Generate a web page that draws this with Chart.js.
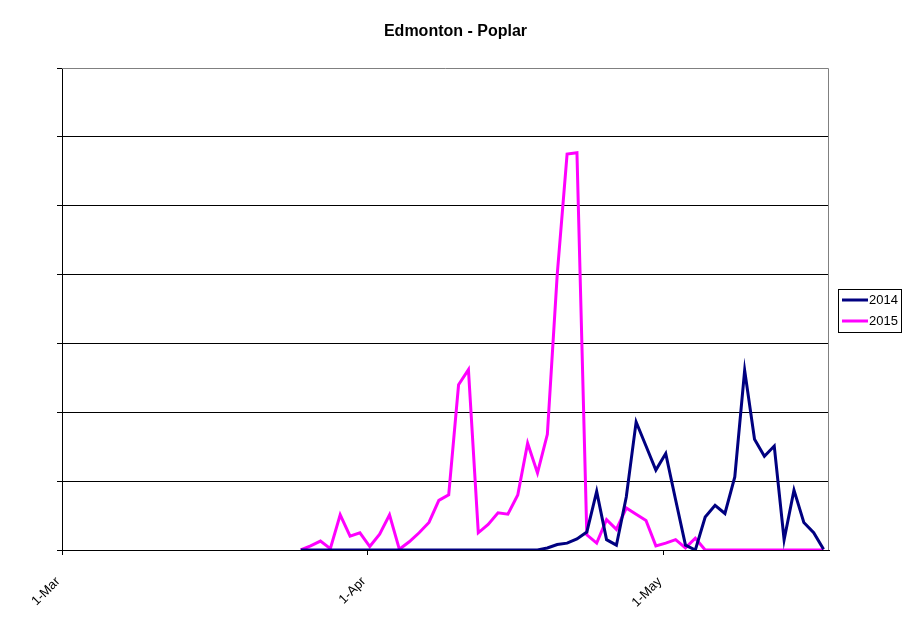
<!DOCTYPE html>
<html lang="en">
<head>
    <meta charset="UTF-8">
    <title>Edmonton - Poplar</title>
    <style>
        body {
            margin: 0;
            padding: 0;
            background: #fff;
            font-family: 'Liberation Sans', Arial, sans-serif;
        }
        #chart {
            width: 911px;
            height: 623px;
            position: relative;
        }
    </style>
</head>
<body>
    <div id="chart">
        <canvas id="myChart" width="911" height="623"></canvas>
    </div>

    <script src="https://cdn.jsdelivr.net/npm/chart.js"></script>
    <script>
// day index 0 = 1-Mar, last day = 17-May (index 77)
const axisMax = 77.75;
const tickDays = [0, 31, 61];
const tickLabels = ['1-Mar', '1-Apr', '1-May'];
const titleText = 'Edmonton - Poplar';

// both series start at day 24 (25-Mar)
const firstDay = 24;
const values2014 = [
    0, 0, 0, 0, 0, 0, 0, 0, 0, 0,          // day 24-33
    0, 0, 0, 0, 0, 0, 0, 0, 0, 0,          // day 34-43
    0, 0, 0, 0, 0, 0.03, 0.08, 0.10, 0.16, 0.26, // day 44-53
    0.85, 0.15, 0.07, 0.77, 1.86, 1.51, 1.16, 1.40, 0.73, 0.07, // day 54-63
    0.0, 0.48, 0.65, 0.53, 1.06, 2.61, 1.61, 1.36, 1.51, 0.15,  // day 64-73
    0.87, 0.40, 0.25, 0.01                 // day 74-77
];
const values2015 = [
    0.0, 0.06, 0.13, 0.02, 0.51, 0.20, 0.25, 0.05, 0.23, 0.51, // day 24-33
    0.01, 0.12, 0.25, 0.40, 0.72, 0.80, 2.40, 2.62, 0.25, 0.37, // day 34-43
    0.54, 0.52, 0.80, 1.55, 1.12, 1.68, 4.00, 5.75, 5.77, 0.22, // day 44-53
    0.10, 0.44, 0.30, 0.61, 0.52, 0.43, 0.06, 0.10, 0.15, 0.03, // day 54-63
    0.17, 0.0, 0, 0, 0, 0, 0, 0, 0, 0,     // day 64-73
    0, 0, 0, 0                             // day 74-77
];

// points sit a little inside each day slot
function toPoints(values) {
    return values.map((v, i) => ({ x: firstDay + i + 0.2, y: v }));
}

// title centred on the whole canvas
const pageTitle = {
    id: 'pageTitle',
    afterDraw(chart) {
        const ctx = chart.ctx;
        ctx.save();
        ctx.font = 'bold 16px "Liberation Sans", Arial, sans-serif';
        ctx.fillStyle = '#000';
        ctx.textAlign = 'center';
        ctx.textBaseline = 'middle';
        ctx.fillText(titleText, chart.width / 2, 32);
        ctx.restore();
    }
};

// legend with a box, drawn on the canvas
const boxLegend = {
    id: 'boxLegend',
    afterDraw(chart) {
        const ctx = chart.ctx;
        const x = 838, y = 289, w = 63, h = 43;
        ctx.save();
        ctx.strokeStyle = '#000';
        ctx.lineWidth = 1;
        ctx.strokeRect(x + 0.5, y + 0.5, w, h);
        ctx.font = '13px "Liberation Sans", Arial, sans-serif';
        ctx.textBaseline = 'middle';
        ctx.fillStyle = '#000';
        chart.data.datasets.forEach((ds, i) => {
            const ly = 300 + i * 21;
            ctx.strokeStyle = ds.borderColor;
            ctx.lineWidth = 3;
            ctx.beginPath();
            ctx.moveTo(842, ly);
            ctx.lineTo(868, ly);
            ctx.stroke();
            ctx.fillText(ds.label, 869, ly);
        });
        ctx.restore();
    }
};

// plot border (gray top and right)
const plotBorder = {
    id: 'plotBorder',
    beforeDatasetsDraw(chart) {
        const a = chart.chartArea;
        const ctx = chart.ctx;
        ctx.save();
        ctx.strokeStyle = '#808080';
        ctx.lineWidth = 1;
        ctx.beginPath();
        ctx.moveTo(a.left, Math.round(a.top) + 0.5);
        ctx.lineTo(Math.round(a.right) - 0.5, Math.round(a.top) + 0.5);
        ctx.lineTo(Math.round(a.right) - 0.5, a.bottom);
        ctx.stroke();
        ctx.restore();
    }
};

const ctx = document.getElementById('myChart').getContext('2d');
const myChart = new Chart(ctx, {
    type: 'line',
    data: {
        datasets: [{
            label: '2014',
            data: toPoints(values2014),
            borderColor: '#000080',
            borderWidth: 3,
            pointRadius: 0,
            tension: 0,
            fill: false
        }, {
            label: '2015',
            data: toPoints(values2015),
            borderColor: '#FF00FF',
            borderWidth: 3,
            pointRadius: 0,
            tension: 0,
            fill: false
        }]
    },
    options: {
        responsive: false,
        animation: false,
        layout: {
            padding: { left: 0, right: 82, top: 68, bottom: 0 }
        },
        plugins: {
            legend: { display: false },
            tooltip: { enabled: false },
            title: { display: false }
        },
        scales: {
            x: {
                type: 'linear',
                min: 0,
                max: axisMax,
                afterBuildTicks: (scale) => {
                    scale.ticks = tickDays.map(v => ({ value: v }));
                },
                afterFit: (scale) => { scale.height = 73; },
                ticks: {
                    color: '#000',
                    font: { family: '"Liberation Sans", Arial, sans-serif', size: 13 },
                    minRotation: 45,
                    maxRotation: 45,
                    padding: 19,
                    labelOffset: -4,
                    callback: (value) => tickLabels[tickDays.indexOf(value)]
                },
                grid: {
                    display: true,
                    drawOnChartArea: false,
                    drawTicks: true,
                    tickLength: 5,
                    color: '#000'
                },
                border: { display: true, color: '#000', width: 1 }
            },
            y: {
                min: 0,
                max: 7,
                afterFit: (scale) => { scale.width = 62; },
                ticks: {
                    display: false,
                    stepSize: 1
                },
                grid: {
                    color: (c) => c.tick.value === 7 ? 'rgba(0,0,0,0)' : '#000',
                    tickColor: '#000',
                    drawTicks: true,
                    tickLength: 5
                },
                border: { display: true, color: '#000', width: 1 }
            }
        }
    },
    plugins: [plotBorder, boxLegend, pageTitle]
});
    </script>
</body>
</html>
